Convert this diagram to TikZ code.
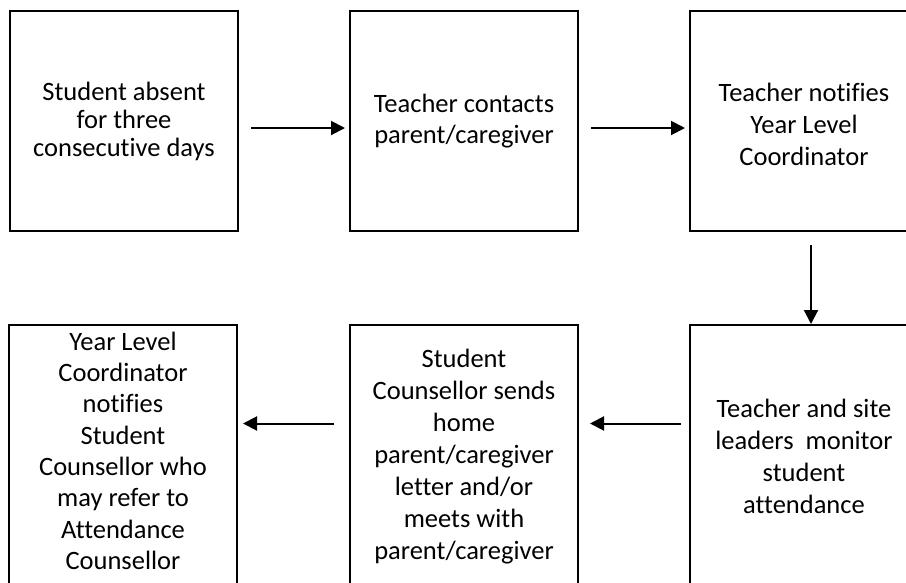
\documentclass[tikz,border=0pt]{standalone}
\usepackage{fontspec}
\setmainfont[Ligatures={NoCommon}]{Carlito}
\usetikzlibrary{arrows.meta}
\begin{document}
\begin{tikzpicture}[x=1pt,y=-1pt,
  box/.style={draw=black, line width=2pt, minimum width=228pt, inner sep=0pt,
    align=center, font=\fontsize{26.5}{32}\selectfont},
  topbox/.style={box, minimum height=220pt},
  botbox/.style={box, minimum height=263pt},
  flow/.style={line width=2pt, -{Triangle[length=14pt,width=14pt]}}]
\path[use as bounding box, clip] (0,0) rectangle (906,582);
\fill[white] (0,0) rectangle (906,582);
\node[topbox, font=\fontsize{26.5}{28}\selectfont] (b1) at (124,121) {Student absent\\for three\\consecutive days};
\node[topbox, font=\fontsize{26.5}{31}\selectfont] (b2) at (464,121) {Teacher contacts\\parent/caregiver};
\node[topbox] (b3) at (804,121) {\raisebox{-6pt}[\height][\depth]{\begin{tabular}{@{}c@{}}Teacher notifies\\Year Level\\Coordinator\end{tabular}}};
\node[botbox] (b6) at (804,456.5) {Teacher and site\\leaders\ \ monitor\\student\\attendance};
\node[botbox] (b5) at (464,456.5) {Student\\Counsellor sends\\home\\parent/caregiver\\letter and/or\\meets with\\parent/caregiver};
\node[botbox, font=\fontsize{26.5}{31.3}\selectfont] (b4) at (123,456.5) {\raisebox{3pt}[\height][\depth]{\begin{tabular}{@{}c@{}}Year Level\\Coordinator\\notifies\\Student\\Counsellor who\\may refer to\\Attendance\\Counsellor\end{tabular}}};
\draw[flow, shorten <=12pt, shorten >=4pt] ([yshift=-7pt]b1.east) -- ([yshift=-7pt]b2.west);
\draw[flow, shorten <=12pt, shorten >=4pt] ([yshift=-7pt]b2.east) -- ([yshift=-7pt]b3.west);
\draw[flow, shorten <=13pt] ([xshift=7pt]b3.south) -- ([xshift=7pt]b6.north);
\draw[flow, shorten <=8pt, shorten >=11pt] ([yshift=33pt]b6.west) -- ([yshift=33pt]b5.east);
\draw[flow, shorten <=15pt, shorten >=5pt] ([yshift=33pt]b5.west) -- ([yshift=33pt]b4.east);
\end{tikzpicture}
\end{document}
